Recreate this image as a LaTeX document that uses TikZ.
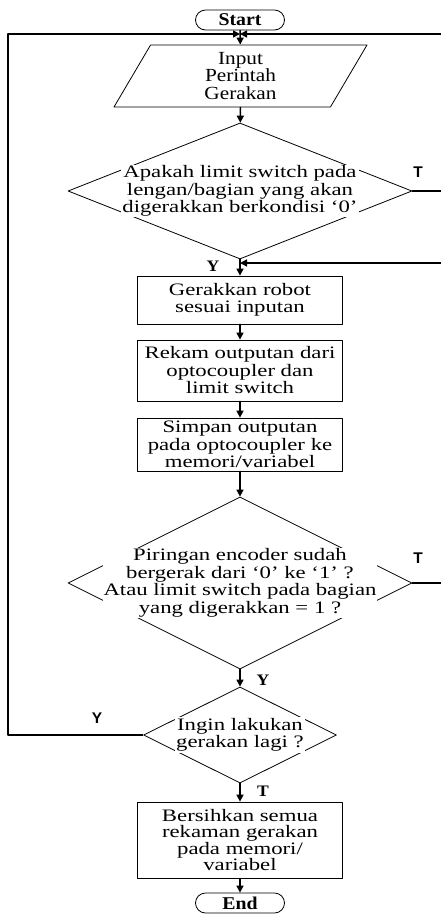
\documentclass[tikz,border=0pt]{standalone}
\usepackage{fontspec}
\setmainfont{Liberation Serif}
\newfontfamily\wideserif[FakeStretch=1.3]{Liberation Serif}
\newfontfamily\termserif[FakeStretch=1.1]{Liberation Serif}
\newfontfamily\inputserif[FakeStretch=1.15]{Liberation Serif}
\newfontfamily\labelsans{Liberation Sans}
\usetikzlibrary{positioning,calc,shapes.geometric,shapes.misc,arrows.meta}

\begin{document}
\begin{tikzpicture}[
		x=1pt,y=-1pt,
		line cap=round,line join=round,
		term/.style={draw=black, line width=0.8pt, rounded rectangle, minimum width=89pt, minimum height=20pt, inner sep=0pt, font=\termserif\bfseries\fontsize{18}{18}\selectfont},
		io/.style={draw=black, line width=0.8pt, trapezium, trapezium left angle=52.3, trapezium right angle=127.7, trapezium stretches body, minimum width=253pt, minimum height=62pt, inner sep=0pt, align=center, font=\inputserif\fontsize{18.5}{17.5}\selectfont},
		proc/.style={draw=black, line width=0.8pt, rectangle, minimum width=205pt, inner xsep=2pt, inner ysep=1pt, align=center, font=\wideserif\fontsize{17.5}{17.5}\selectfont},
		decision/.style={draw=black, line width=0.8pt, diamond, inner sep=0pt},
		dtext/.style={fill=white, inner sep=1pt, align=center, font=\wideserif\fontsize{17.5}{17.5}\selectfont},
		yes/.style={font=\termserif\bfseries\fontsize{16}{16}\selectfont, inner sep=0pt},
		sanslbl/.style={font=\labelsans\bfseries\fontsize{15.5}{15.5}\selectfont, inner sep=0pt},
		flow/.style={draw=black, line width=1.5pt, -{Triangle[length=7pt,width=7pt]}},
		back/.style={flow, line cap=butt}
		]
		% ---- parameters
		\def\cx{240}      % garis tengah
		\def\railL{8}     % jalur balik kiri
		\def\railR{442}   % jalur balik kanan (terpotong tepi)
		
		\useasboundingbox (0,0) rectangle (440,914);
		
		% ---- blocks
		\node[term] (start) at (\cx,20) {Start};
		\node[io] (input) at (240.5,76) {Input\\Perintah\\Gerakan};
		\node[decision, minimum width=344pt, minimum height=136pt] (cek) at (\cx,191) {};
		\node[dtext] (cektxt) at (cek) {Apakah limit switch pada\\lengan/bagian yang akan\\digerakkan berkondisi ‘0’};
		\node[proc, minimum height=48pt] (gerak) at (\cx,300) {Gerakkan robot\\sesuai inputan};
		\node[proc, minimum height=61pt] (rekam) at (\cx,370.5) {Rekam outputan dari\\optocoupler dan\\limit switch};
		\node[proc, minimum height=53pt] (simpan) at (\cx,444.5) {Simpan outputan\\pada optocoupler ke\\memori/variabel};
		\node[decision, minimum width=344pt, minimum height=172pt] (encoder) at (\cx,583) {};
		\node[dtext] (encodertxt) at (encoder) {Piringan encoder sudah\\bergerak dari ‘0’ ke ‘1’ ?\\Atau limit switch pada bagian\\yang digerakkan = 1 ?};
		\node[decision, minimum width=193pt, minimum height=96pt] (lagi) at (\cx,735) {};
		\node[dtext] (lagitxt) at (lagi) {Ingin lakukan\\gerakan lagi ?};
		\node[proc, minimum height=76pt, font=\wideserif\fontsize{17.5}{16.5}\selectfont] (hapus) at (\cx,840) {Bersihkan semua\\rekaman gerakan\\pada memori/\\variabel};
		\node[term] (end) at (\cx,903) {End};
		
		% ---- labels
		\node[yes] (ycek) at (213,266) {Y};
		\node[yes] (yenc) at (263,680) {Y};
		\node[yes] (tlagi) at (263,791) {T};
		\node[sanslbl] (tcek) at (418,172) {T};
		\node[sanslbl] (tenc) at (418,558) {T};
		\node[sanslbl] (ylagi) at (97,718) {Y};
		
		% ---- join points
		\coordinate (topjoin) at (\cx,34);
		\coordinate (midjoin) at (\cx,263);
		\coordinate (leftrail) at (\railL,0);
		\coordinate (rightrail) at (\railR,0);
		
		% ---- main flow
		\draw[flow] (start) -- (input);
		\draw[flow] (input) -- (cek);
		\draw[flow] (cek) -- (gerak);
		\draw[flow] (gerak) -- (rekam);
		\draw[flow] (rekam) -- (simpan);
		\draw[flow] (simpan) -- (encoder);
		\draw[flow] (encoder) -- (lagi);
		\draw[flow] (lagi) -- (hapus);
		\draw[flow] (hapus) -- (end);
		
		% ---- loops back
		\draw[back] (lagi.west) -- (lagi.west -| leftrail) |- (topjoin);
		\draw[back] (cek.east) -- (cek.east -| rightrail) |- (topjoin);
		\draw[back] (encoder.east) -- (encoder.east -| rightrail) |- (midjoin);
	\end{tikzpicture}
\end{document}
